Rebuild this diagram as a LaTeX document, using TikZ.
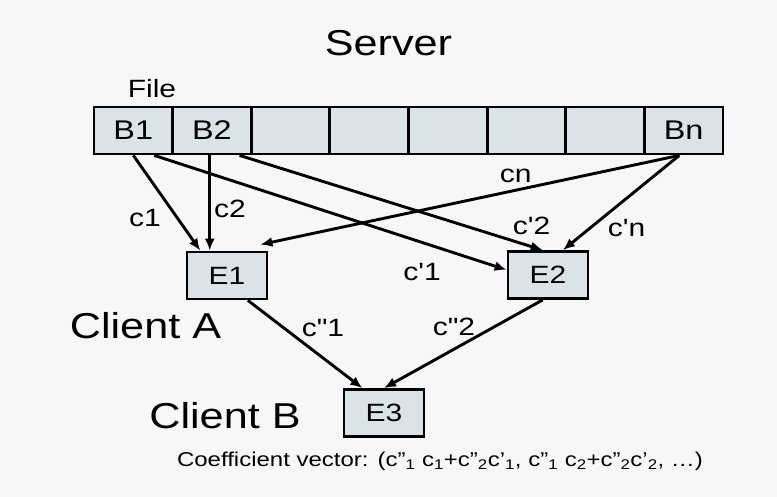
\documentclass[tikz,border=0pt]{standalone}
\usepackage{fontspec}
\setmainfont{Liberation Sans}[FakeStretch=1.2,Ligatures=TeXOff]
\usepackage{tikz}
\usetikzlibrary{arrows.meta}
\usetikzlibrary{calc}
\definecolor{bgcol}{RGB}{247,247,247}
\definecolor{blockcol}{RGB}{217,227,232}

\begin{document}
\begin{tikzpicture}[x=1pt,y=-1pt,
    block/.style={draw,line width=2.8pt,fill=blockcol,minimum width=78.625pt,minimum height=47pt,inner sep=0pt,font=\fontsize{27}{30}\selectfont},
    enc/.style={draw,line width=2.8pt,fill=blockcol,minimum width=80pt,minimum height=47pt,inner sep=0pt,font=\fontsize{25}{28}\selectfont},
    lbl/.style={anchor=base,font=\fontsize{25}{28}\selectfont},
    big/.style={anchor=base,font=\fontsize{36}{40}\selectfont},
    link/.style={line width=2.9pt,-{Latex[length=12pt,width=10pt]}}]
            \fill[bgcol] (0,0) rectangle (777,497);
            \node[big] (server) at (388.5,56) {Server};
            \node[lbl] (file) at (152,98) {File};
            \foreach \i/\t in {1/B1,2/B2,3/{},4/{},5/{},6/{},7/{},8/Bn}
                \node[block] (b\i) at ({94+78.625*(\i-0.5)},130.5) {\t};
            \node[enc] (e1) at (227,275.5) {E1};
            \node[enc] (e2) at (548,275) {E2};
            \node[enc] (e3) at (384,413) {E3};
            \node[big] (clienta) at (145.5,338) {Client A};
            \node[big] (clientb) at (225,428) {Client B};
            \draw[link] (b1.south) -- (e1.137);
            \draw[link] (b2.-95) -- (b2.-95 |- e1.north);
            \draw[link] (b8.-100) -- ($(e1.north east)+(-8,-6)$);
            \draw[link] (b1.-50) -- (e2.173);
            \draw[link] (b2.-42) -- (e2.102);
            \draw[link] (b8.-100) -- (e2.59);
            \draw[link] (e1.-50) -- (e3.131);
            \draw[link] (e2.-102) -- (e3.north);
            \node[lbl] (c1) at (145,226.7) {c1};
            \node[lbl] (c2) at (230,218) {c2};
            \node[lbl] (cn) at (515.7,183) {cn};
            \node[lbl] (cp1) at (422,280) {c'1};
            \node[lbl] (cp2) at (531.7,235) {c'2};
            \node[lbl] (cpn) at (626.7,236.7) {c'n};
            \node[lbl] (cpp1) at (323,336.7) {c"1};
            \node[lbl] (cpp2) at (454,335) {c"2};
            \node[anchor=base,font=\fontsize{20}{24}\selectfont] (vector) at (440,466) {Coefficient vector: (c”\textsubscript{1} c\textsubscript{1}+c”\textsubscript{2}c’\textsubscript{1}, c”\textsubscript{1} c\textsubscript{2}+c”\textsubscript{2}c’\textsubscript{2}, …)};
        \end{tikzpicture}
\end{document}
